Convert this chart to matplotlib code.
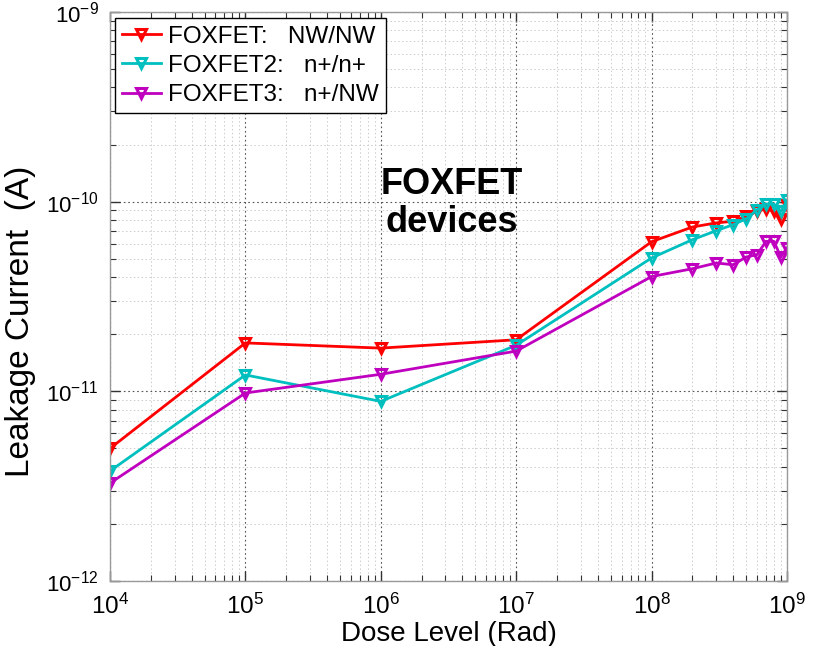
import numpy as np
import matplotlib
matplotlib.use("Agg")
import matplotlib.pyplot as plt
from matplotlib.ticker import LogLocator, FuncFormatter, NullFormatter

plt.rcParams['font.family'] = ['Liberation Sans', 'DejaVu Sans']
plt.rcParams['mathtext.fontset'] = 'custom'
plt.rcParams['mathtext.rm'] = 'Liberation Sans'
plt.rcParams['mathtext.it'] = 'Liberation Sans:italic'
plt.rcParams['mathtext.bf'] = 'Liberation Sans:bold'
plt.rcParams['axes.unicode_minus'] = False

# Data
dose = [1e4, 1e5, 1e6, 1e7, 1e8, 2e8, 3e8, 4e8, 5e8, 6e8, 7e8, 8e8, 9e8, 1e9]
foxfet_nw_nw = [5.0e-12, 1.80e-11, 1.69e-11, 1.87e-11, 6.15e-11, 7.35e-11, 7.73e-11,
                7.88e-11, 8.37e-11, 8.89e-11, 9.18e-11, 8.89e-11, 8.1e-11, 9.6e-11]
foxfet2_np_np = [3.8e-12, 1.22e-11, 8.85e-12, 1.75e-11, 5.05e-11, 6.3e-11, 7.03e-11,
                 7.56e-11, 8.13e-11, 9.07e-11, 9.72e-11, 9.72e-11, 8.89e-11, 1.015e-10]
foxfet3_np_nw = [3.28e-12, 9.8e-12, 1.23e-11, 1.63e-11, 4.03e-11, 4.43e-11, 4.75e-11,
                 4.65e-11, 5.11e-11, 5.25e-11, 6.18e-11, 6.18e-11, 5.11e-11, 5.7e-11]
labels = ['FOXFET:   NW/NW', 'FOXFET2:   n+/n+', 'FOXFET3:   n+/NW']
colors = ['#ff0000', '#00bfbf', '#bf00bf']

fig = plt.figure(figsize=(8.13, 6.46), dpi=100)
ax = fig.add_axes([110/813, 1-581/646, 677/813, 569/646])

for ys, lab, c in zip([foxfet_nw_nw, foxfet2_np_np, foxfet3_np_nw], labels, colors):
    ax.plot(dose, ys, color=c, lw=2, marker='v', ms=7, mfc='none', mec=c, mew=2.2, label=lab)

ax.set_xscale('log')
ax.set_yscale('log')
ax.set_xlim(1e4, 1e9)
ax.set_ylim(1e-12, 1e-9)

fmt = FuncFormatter(lambda v, p: r'$\mathregular{10^{%d}}$' % int(round(np.log10(v))))
ax.xaxis.set_major_locator(LogLocator(base=10, numticks=20))
ax.yaxis.set_major_locator(LogLocator(base=10, numticks=20))
ax.xaxis.set_minor_locator(LogLocator(base=10, subs=np.arange(2, 10), numticks=50))
ax.yaxis.set_minor_locator(LogLocator(base=10, subs=np.arange(2, 10), numticks=50))
ax.xaxis.set_major_formatter(fmt)
ax.yaxis.set_major_formatter(fmt)
ax.xaxis.set_minor_formatter(NullFormatter())
ax.yaxis.set_minor_formatter(NullFormatter())

ax.tick_params(which='both', direction='in', top=True, right=True, color='#333333')
ax.tick_params(which='major', length=7, width=1, labelsize=17.5, pad=9)
ax.tick_params(axis='y', which='major', labelsize=16, pad=8)
ax.tick_params(which='minor', length=4, width=0.8)
for s in ax.spines.values():
    s.set_color('#999999')
    s.set_linewidth(1)

ax.grid(True, which='major', linestyle=(0, (1.5, 2.5)), color='#555555', lw=0.8)
ax.grid(True, which='minor', linestyle=(0, (1.5, 2.5)), color='#cccccc', lw=0.7)
ax.set_axisbelow(True)

ax.set_xlabel('Dose Level (Rad)', fontsize=20, labelpad=2)
ax.set_ylabel('Leakage Current  (A)', fontsize=24)
ax.yaxis.set_label_coords(-0.11, 0.457)

trans = matplotlib.transforms.blended_transform_factory(ax.transAxes, ax.transAxes)
ax.text(0.505, 0.664, 'FOXFET\ndevices', ha='center', va='center', fontsize=26,
        fontweight='bold', transform=trans, linespacing=1.1)

leg = ax.legend(loc='upper left', bbox_to_anchor=(0.007, 0.989), borderaxespad=0,
                fontsize=17.5, frameon=True, fancybox=False, framealpha=1,
                edgecolor='black', handlelength=1.6, handletextpad=0.3,
                labelspacing=0.3, borderpad=0.3, numpoints=1)
leg.get_frame().set_linewidth(1.0)

fig.savefig('out.png', dpi=100)
